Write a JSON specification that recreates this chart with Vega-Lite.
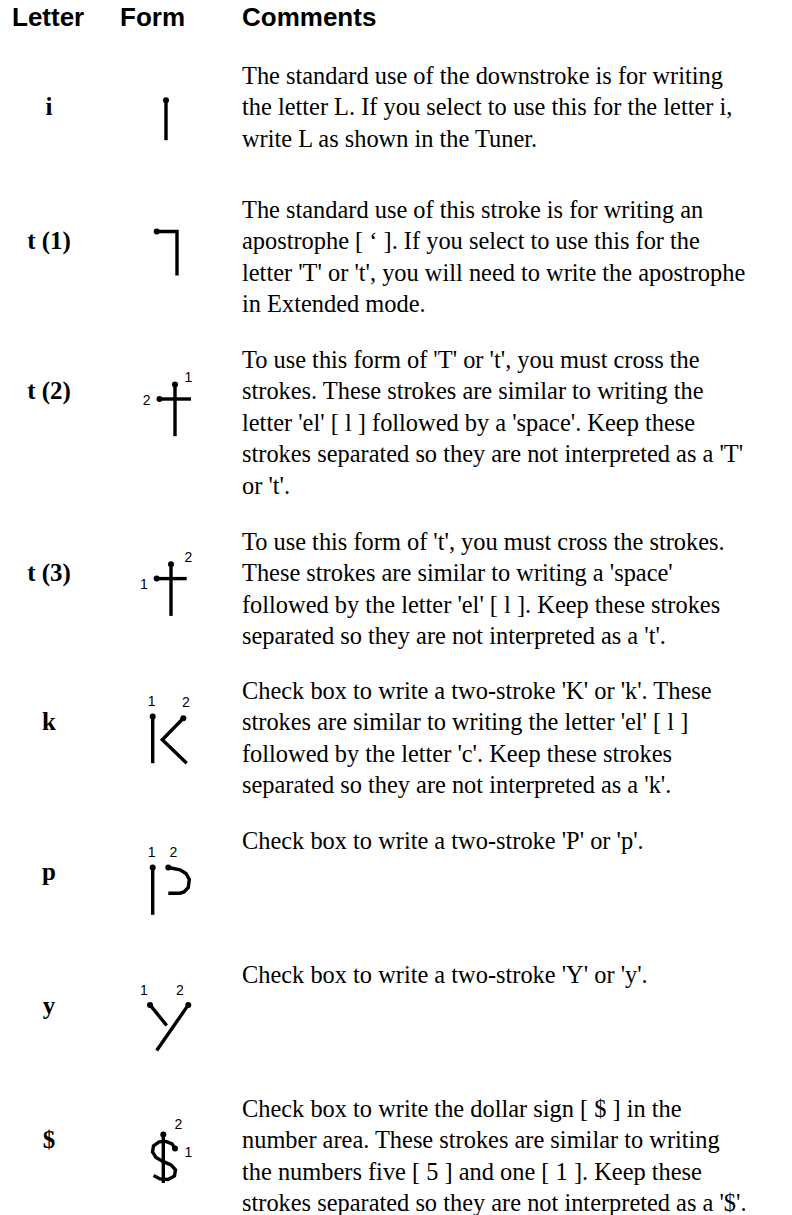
{
"$schema":"https://vega.github.io/schema/vega-lite/v6.json",
"background":"white","padding":0,"spacing":0,"bounds":"flush",
"config":{"view":{"stroke":null},"concat":{"spacing":0}},
"datasets":{
"header":[{"col":"Letter"},{"col":"Form"},{"col":"Comments"}],
"lines":[
{"row":"i","col":"Letter","line":2,"text":"i"},
{"row":"i","col":"Comments","line":1,"text":"The standard use of the downstroke is for writing"},
{"row":"i","col":"Comments","line":2,"text":"the letter L. If you select to use this for the letter i,"},
{"row":"i","col":"Comments","line":3,"text":"write L as shown in the Tuner."},
{"row":"t1","col":"Letter","line":2,"text":"t (1)"},
{"row":"t1","col":"Comments","line":1,"text":"The standard use of this stroke is for writing an"},
{"row":"t1","col":"Comments","line":2,"text":"apostrophe [ ‘ ]. If you select to use this for the"},
{"row":"t1","col":"Comments","line":3,"text":"letter 'T' or 't', you will need to write the apostrophe"},
{"row":"t1","col":"Comments","line":4,"text":"in Extended mode."},
{"row":"t2","col":"Letter","line":2,"text":"t (2)"},
{"row":"t2","col":"Comments","line":1,"text":"To use this form of 'T' or 't', you must cross the"},
{"row":"t2","col":"Comments","line":2,"text":"strokes. These strokes are similar to writing the"},
{"row":"t2","col":"Comments","line":3,"text":"letter 'el' [ l ] followed by a 'space'. Keep these"},
{"row":"t2","col":"Comments","line":4,"text":"strokes separated so they are not interpreted as a 'T'"},
{"row":"t2","col":"Comments","line":5,"text":"or 't'."},
{"row":"t3","col":"Letter","line":2,"text":"t (3)"},
{"row":"t3","col":"Comments","line":1,"text":"To use this form of 't', you must cross the strokes."},
{"row":"t3","col":"Comments","line":2,"text":"These strokes are similar to writing a 'space'"},
{"row":"t3","col":"Comments","line":3,"text":"followed by the letter 'el' [ l ]. Keep these strokes"},
{"row":"t3","col":"Comments","line":4,"text":"separated so they are not interpreted as a 't'."},
{"row":"k","col":"Letter","line":2,"text":"k"},
{"row":"k","col":"Comments","line":1,"text":"Check box to write a two-stroke 'K' or 'k'. These"},
{"row":"k","col":"Comments","line":2,"text":"strokes are similar to writing the letter 'el' [ l ]"},
{"row":"k","col":"Comments","line":3,"text":"followed by the letter 'c'. Keep these strokes"},
{"row":"k","col":"Comments","line":4,"text":"separated so they are not interpreted as a 'k'."},
{"row":"p","col":"Letter","line":2,"text":"p"},
{"row":"p","col":"Comments","line":1,"text":"Check box to write a two-stroke 'P' or 'p'."},
{"row":"y","col":"Letter","line":2,"text":"y"},
{"row":"y","col":"Comments","line":1,"text":"Check box to write a two-stroke 'Y' or 'y'."},
{"row":"d","col":"Letter","line":2,"text":"$"},
{"row":"d","col":"Comments","line":1,"text":"Check box to write the dollar sign [ $ ] in the"},
{"row":"d","col":"Comments","line":2,"text":"number area. These strokes are similar to writing"},
{"row":"d","col":"Comments","line":3,"text":"the numbers five [ 5 ] and one [ 1 ]. Keep these"},
{"row":"d","col":"Comments","line":4,"text":"strokes separated so they are not interpreted as a '$'."}
],
"strokes":[
{"row":"i","stroke":1,"seq":1,"gx":0,"gy":-15},{"row":"i","stroke":1,"seq":2,"gx":0,"gy":25},
{"row":"t1","stroke":1,"seq":1,"gx":-9.3,"gy":-17.7},{"row":"t1","stroke":1,"seq":2,"gx":11,"gy":-17.7},{"row":"t1","stroke":1,"seq":3,"gx":11,"gy":26.3},
{"row":"t2","stroke":1,"seq":1,"gx":9,"gy":-14.6},{"row":"t2","stroke":1,"seq":2,"gx":9,"gy":37},
{"row":"t2","stroke":2,"seq":1,"gx":-6.5,"gy":-0.2},{"row":"t2","stroke":2,"seq":2,"gx":25,"gy":-0.2},
{"row":"t3","stroke":1,"seq":1,"gx":-9.3,"gy":-2.6},{"row":"t3","stroke":1,"seq":2,"gx":20.7,"gy":-2.6},
{"row":"t3","stroke":2,"seq":1,"gx":5,"gy":-17},{"row":"t3","stroke":2,"seq":2,"gx":5,"gy":34.7},
{"row":"k","stroke":1,"seq":1,"gx":-13.3,"gy":-13.7},{"row":"k","stroke":1,"seq":2,"gx":-13.3,"gy":33},
{"row":"k","stroke":2,"seq":1,"gx":17.3,"gy":-12},{"row":"k","stroke":2,"seq":2,"gx":-3.7,"gy":9.6},{"row":"k","stroke":2,"seq":3,"gx":20.7,"gy":33},
{"row":"p","stroke":1,"seq":1,"gx":-13.3,"gy":-12.7},{"row":"p","stroke":1,"seq":2,"gx":-13.3,"gy":34.6},
{"row":"p","stroke":2,"seq":1,"gx":2.3,"gy":-12.7},{"row":"p","stroke":2,"seq":2,"gx":14,"gy":-10.4},{"row":"p","stroke":2,"seq":3,"gx":20,"gy":-6.7},{"row":"p","stroke":2,"seq":4,"gx":23.3,"gy":-0.7},{"row":"p","stroke":2,"seq":5,"gx":22.3,"gy":7.3},{"row":"p","stroke":2,"seq":6,"gx":18,"gy":11.8},{"row":"p","stroke":2,"seq":7,"gx":14,"gy":13},{"row":"p","stroke":2,"seq":8,"gx":2.3,"gy":13},
{"row":"y","stroke":1,"seq":1,"gx":-16,"gy":-9.3},{"row":"y","stroke":1,"seq":2,"gx":0.7,"gy":11.3},
{"row":"y","stroke":2,"seq":1,"gx":22.3,"gy":-9.3},{"row":"y","stroke":2,"seq":2,"gx":-9.3,"gy":36.3},
{"row":"d","stroke":1,"seq":1,"gx":9,"gy":0.4},{"row":"d","stroke":1,"seq":2,"gx":6,"gy":-4.3},{"row":"d","stroke":1,"seq":3,"gx":0,"gy":-6.8},{"row":"d","stroke":1,"seq":4,"gx":-7,"gy":-6.3},{"row":"d","stroke":1,"seq":5,"gx":-12.5,"gy":-2.3},{"row":"d","stroke":1,"seq":6,"gx":-13.5,"gy":3.7},{"row":"d","stroke":1,"seq":7,"gx":-10,"gy":9.2},{"row":"d","stroke":1,"seq":8,"gx":-3,"gy":13.2},{"row":"d","stroke":1,"seq":9,"gx":5,"gy":16.7},{"row":"d","stroke":1,"seq":10,"gx":9.5,"gy":21.7},{"row":"d","stroke":1,"seq":11,"gx":8.5,"gy":27.7},{"row":"d","stroke":1,"seq":12,"gx":2,"gy":31.2},{"row":"d","stroke":1,"seq":13,"gx":-6,"gy":30.7},{"row":"d","stroke":1,"seq":14,"gx":-12.5,"gy":27.2},
{"row":"d","stroke":2,"seq":1,"gx":-2.7,"gy":-13.6},{"row":"d","stroke":2,"seq":2,"gx":-2.7,"gy":34.7}
],
"dots":[
{"row":"i","gx":0,"gy":-15},
{"row":"t1","gx":-9.3,"gy":-17.7},
{"row":"t2","gx":9,"gy":-14.6},{"row":"t2","gx":-6.5,"gy":-0.2},
{"row":"t3","gx":5,"gy":-17},{"row":"t3","gx":-9.3,"gy":-2.6},
{"row":"k","gx":-13.3,"gy":-13.7},{"row":"k","gx":17.3,"gy":-12},
{"row":"p","gx":-13.3,"gy":-12.7},{"row":"p","gx":2.3,"gy":-12.7},
{"row":"y","gx":-16,"gy":-9.3},{"row":"y","gx":22.3,"gy":-9.3},
{"row":"d","gx":9,"gy":0.4},{"row":"d","gx":-2.7,"gy":-13.6}
],
"labels":[
{"row":"t2","text":"1","gx":22.3,"gy":-21.5},{"row":"t2","text":"2","gx":-19.3,"gy":1.3},
{"row":"t3","text":"2","gx":22.3,"gy":-23.6},{"row":"t3","text":"1","gx":-22,"gy":3.7},
{"row":"k","text":"1","gx":-14.3,"gy":-28.7},{"row":"k","text":"2","gx":20,"gy":-27},
{"row":"p","text":"1","gx":-14.3,"gy":-27},{"row":"p","text":"2","gx":7.3,"gy":-27},
{"row":"y","text":"1","gx":-22,"gy":-23.7},{"row":"y","text":"2","gx":14,"gy":-23.7},
{"row":"d","text":"2","gx":12.3,"gy":-23.6},{"row":"d","text":"1","gx":22.3,"gy":4.7}
]
},
"vconcat":[
{"width":792,"height":51.8,"data":{"name":"header"},"resolve":{"scale":{"x":"independent"}},
 "layer":[
  {"transform":[{"filter":"datum.col !== 'Form'"}],
   "mark":{"type":"text","font":"Liberation Sans","fontWeight":"bold","fontSize":26,"align":"left","baseline":"alphabetic","color":"black"},
   "encoding":{"x":{"field":"col","type":"nominal","scale":{"type":"point","domain":["Letter","Comments"],"range":[12,242],"padding":0},"axis":null},"text":{"field":"col"}}},
  {"transform":[{"filter":"datum.col === 'Form'"}],
   "mark":{"type":"text","font":"Liberation Sans","fontWeight":"bold","fontSize":26,"align":"left","baseline":"alphabetic","color":"black"},
   "encoding":{"x":{"field":"col","type":"nominal","scale":{"type":"point","domain":["Form"],"range":[110,130],"padding":0},"axis":null},"text":{"field":"col"}}}]},
{"width":792,"height":133.7,"resolve":{"scale":{"x":"independent","y":"independent"}},"layer":[
 {"data":{"name":"lines"},"transform":[{"filter":"datum.row === 'i'"}],
  "encoding":{"x":{"field":"col","type":"nominal","scale":{"type":"point","domain":["Letter","Comments"],"range":[49,242],"padding":0},"axis":null},"y":{"field":"line","type":"quantitative","scale":{"domain":[0,1],"range":[0,31.6],"nice":false,"zero":false},"axis":null},"text":{"field":"text"}},
  "layer":[
   {"transform":[{"filter":"datum.col === 'Letter'"}],"mark":{"type":"text","font":"Liberation Serif","fontWeight":"bold","fontSize":25,"align":"center","baseline":"alphabetic","color":"black"}},
   {"transform":[{"filter":"datum.col === 'Comments'"}],"mark":{"type":"text","font":"Liberation Serif","fontSize":24.4,"align":"left","baseline":"alphabetic","color":"black"}}]},
 {"encoding":{"x":{"field":"gx","type":"quantitative","scale":{"domain":[0,10],"range":[166,176],"nice":false,"zero":false},"axis":null},"y":{"field":"gy","type":"quantitative","scale":{"domain":[0,10],"range":[63.2,73.2],"nice":false,"zero":false},"axis":null}},
  "layer":[
   {"data":{"name":"strokes"},"transform":[{"filter":"datum.row === 'i'"}],"mark":{"type":"line","color":"black","strokeWidth":3.4},"encoding":{"detail":{"field":"stroke","type":"nominal"},"order":{"field":"seq","type":"quantitative"}}},
   {"data":{"name":"dots"},"transform":[{"filter":"datum.row === 'i'"}],"mark":{"type":"point","filled":true,"color":"black","size":36,"opacity":1}},
   {"data":{"name":"labels"},"transform":[{"filter":"datum.row === 'i'"}],"mark":{"type":"text","font":"Liberation Sans","fontSize":14,"align":"center","baseline":"middle","color":"black"},"encoding":{"text":{"field":"text"}}}]}]},
{"width":792,"height":150,"resolve":{"scale":{"x":"independent","y":"independent"}},"layer":[
 {"data":{"name":"lines"},"transform":[{"filter":"datum.row === 't1'"}],
  "encoding":{"x":{"field":"col","type":"nominal","scale":{"type":"point","domain":["Letter","Comments"],"range":[49,242],"padding":0},"axis":null},"y":{"field":"line","type":"quantitative","scale":{"domain":[0,1],"range":[0,31.6],"nice":false,"zero":false},"axis":null},"text":{"field":"text"}},
  "layer":[
   {"transform":[{"filter":"datum.col === 'Letter'"}],"mark":{"type":"text","font":"Liberation Serif","fontWeight":"bold","fontSize":25,"align":"center","baseline":"alphabetic","color":"black"}},
   {"transform":[{"filter":"datum.col === 'Comments'"}],"mark":{"type":"text","font":"Liberation Serif","fontSize":24.4,"align":"left","baseline":"alphabetic","color":"black"}}]},
 {"encoding":{"x":{"field":"gx","type":"quantitative","scale":{"domain":[0,10],"range":[166,176],"nice":false,"zero":false},"axis":null},"y":{"field":"gy","type":"quantitative","scale":{"domain":[0,10],"range":[63.2,73.2],"nice":false,"zero":false},"axis":null}},
  "layer":[
   {"data":{"name":"strokes"},"transform":[{"filter":"datum.row === 't1'"}],"mark":{"type":"line","color":"black","strokeWidth":3.4},"encoding":{"detail":{"field":"stroke","type":"nominal"},"order":{"field":"seq","type":"quantitative"}}},
   {"data":{"name":"dots"},"transform":[{"filter":"datum.row === 't1'"}],"mark":{"type":"point","filled":true,"color":"black","size":36,"opacity":1}},
   {"data":{"name":"labels"},"transform":[{"filter":"datum.row === 't1'"}],"mark":{"type":"text","font":"Liberation Sans","fontSize":14,"align":"center","baseline":"middle","color":"black"},"encoding":{"text":{"field":"text"}}}]}]},
{"width":792,"height":181.6,"resolve":{"scale":{"x":"independent","y":"independent"}},"layer":[
 {"data":{"name":"lines"},"transform":[{"filter":"datum.row === 't2'"}],
  "encoding":{"x":{"field":"col","type":"nominal","scale":{"type":"point","domain":["Letter","Comments"],"range":[49,242],"padding":0},"axis":null},"y":{"field":"line","type":"quantitative","scale":{"domain":[0,1],"range":[0,31.6],"nice":false,"zero":false},"axis":null},"text":{"field":"text"}},
  "layer":[
   {"transform":[{"filter":"datum.col === 'Letter'"}],"mark":{"type":"text","font":"Liberation Serif","fontWeight":"bold","fontSize":25,"align":"center","baseline":"alphabetic","color":"black"}},
   {"transform":[{"filter":"datum.col === 'Comments'"}],"mark":{"type":"text","font":"Liberation Serif","fontSize":24.4,"align":"left","baseline":"alphabetic","color":"black"}}]},
 {"encoding":{"x":{"field":"gx","type":"quantitative","scale":{"domain":[0,10],"range":[166,176],"nice":false,"zero":false},"axis":null},"y":{"field":"gy","type":"quantitative","scale":{"domain":[0,10],"range":[63.2,73.2],"nice":false,"zero":false},"axis":null}},
  "layer":[
   {"data":{"name":"strokes"},"transform":[{"filter":"datum.row === 't2'"}],"mark":{"type":"line","color":"black","strokeWidth":3.4},"encoding":{"detail":{"field":"stroke","type":"nominal"},"order":{"field":"seq","type":"quantitative"}}},
   {"data":{"name":"dots"},"transform":[{"filter":"datum.row === 't2'"}],"mark":{"type":"point","filled":true,"color":"black","size":36,"opacity":1}},
   {"data":{"name":"labels"},"transform":[{"filter":"datum.row === 't2'"}],"mark":{"type":"text","font":"Liberation Sans","fontSize":14,"align":"center","baseline":"middle","color":"black"},"encoding":{"text":{"field":"text"}}}]}]},
{"width":792,"height":148.4,"resolve":{"scale":{"x":"independent","y":"independent"}},"layer":[
 {"data":{"name":"lines"},"transform":[{"filter":"datum.row === 't3'"}],
  "encoding":{"x":{"field":"col","type":"nominal","scale":{"type":"point","domain":["Letter","Comments"],"range":[49,242],"padding":0},"axis":null},"y":{"field":"line","type":"quantitative","scale":{"domain":[0,1],"range":[0,31.6],"nice":false,"zero":false},"axis":null},"text":{"field":"text"}},
  "layer":[
   {"transform":[{"filter":"datum.col === 'Letter'"}],"mark":{"type":"text","font":"Liberation Serif","fontWeight":"bold","fontSize":25,"align":"center","baseline":"alphabetic","color":"black"}},
   {"transform":[{"filter":"datum.col === 'Comments'"}],"mark":{"type":"text","font":"Liberation Serif","fontSize":24.4,"align":"left","baseline":"alphabetic","color":"black"}}]},
 {"encoding":{"x":{"field":"gx","type":"quantitative","scale":{"domain":[0,10],"range":[166,176],"nice":false,"zero":false},"axis":null},"y":{"field":"gy","type":"quantitative","scale":{"domain":[0,10],"range":[63.2,73.2],"nice":false,"zero":false},"axis":null}},
  "layer":[
   {"data":{"name":"strokes"},"transform":[{"filter":"datum.row === 't3'"}],"mark":{"type":"line","color":"black","strokeWidth":3.4},"encoding":{"detail":{"field":"stroke","type":"nominal"},"order":{"field":"seq","type":"quantitative"}}},
   {"data":{"name":"dots"},"transform":[{"filter":"datum.row === 't3'"}],"mark":{"type":"point","filled":true,"color":"black","size":36,"opacity":1}},
   {"data":{"name":"labels"},"transform":[{"filter":"datum.row === 't3'"}],"mark":{"type":"text","font":"Liberation Sans","fontSize":14,"align":"center","baseline":"middle","color":"black"},"encoding":{"text":{"field":"text"}}}]}]},
{"width":792,"height":150,"resolve":{"scale":{"x":"independent","y":"independent"}},"layer":[
 {"data":{"name":"lines"},"transform":[{"filter":"datum.row === 'k'"}],
  "encoding":{"x":{"field":"col","type":"nominal","scale":{"type":"point","domain":["Letter","Comments"],"range":[49,242],"padding":0},"axis":null},"y":{"field":"line","type":"quantitative","scale":{"domain":[0,1],"range":[0,31.6],"nice":false,"zero":false},"axis":null},"text":{"field":"text"}},
  "layer":[
   {"transform":[{"filter":"datum.col === 'Letter'"}],"mark":{"type":"text","font":"Liberation Serif","fontWeight":"bold","fontSize":25,"align":"center","baseline":"alphabetic","color":"black"}},
   {"transform":[{"filter":"datum.col === 'Comments'"}],"mark":{"type":"text","font":"Liberation Serif","fontSize":24.4,"align":"left","baseline":"alphabetic","color":"black"}}]},
 {"encoding":{"x":{"field":"gx","type":"quantitative","scale":{"domain":[0,10],"range":[166,176],"nice":false,"zero":false},"axis":null},"y":{"field":"gy","type":"quantitative","scale":{"domain":[0,10],"range":[63.2,73.2],"nice":false,"zero":false},"axis":null}},
  "layer":[
   {"data":{"name":"strokes"},"transform":[{"filter":"datum.row === 'k'"}],"mark":{"type":"line","color":"black","strokeWidth":3.4},"encoding":{"detail":{"field":"stroke","type":"nominal"},"order":{"field":"seq","type":"quantitative"}}},
   {"data":{"name":"dots"},"transform":[{"filter":"datum.row === 'k'"}],"mark":{"type":"point","filled":true,"color":"black","size":36,"opacity":1}},
   {"data":{"name":"labels"},"transform":[{"filter":"datum.row === 'k'"}],"mark":{"type":"text","font":"Liberation Sans","fontSize":14,"align":"center","baseline":"middle","color":"black"},"encoding":{"text":{"field":"text"}}}]}]},
{"width":792,"height":133.3,"resolve":{"scale":{"x":"independent","y":"independent"}},"layer":[
 {"data":{"name":"lines"},"transform":[{"filter":"datum.row === 'p'"}],
  "encoding":{"x":{"field":"col","type":"nominal","scale":{"type":"point","domain":["Letter","Comments"],"range":[49,242],"padding":0},"axis":null},"y":{"field":"line","type":"quantitative","scale":{"domain":[0,1],"range":[0,31.6],"nice":false,"zero":false},"axis":null},"text":{"field":"text"}},
  "layer":[
   {"transform":[{"filter":"datum.col === 'Letter'"}],"mark":{"type":"text","font":"Liberation Serif","fontWeight":"bold","fontSize":25,"align":"center","baseline":"alphabetic","color":"black"}},
   {"transform":[{"filter":"datum.col === 'Comments'"}],"mark":{"type":"text","font":"Liberation Serif","fontSize":24.4,"align":"left","baseline":"alphabetic","color":"black"}}]},
 {"encoding":{"x":{"field":"gx","type":"quantitative","scale":{"domain":[0,10],"range":[166,176],"nice":false,"zero":false},"axis":null},"y":{"field":"gy","type":"quantitative","scale":{"domain":[0,10],"range":[63.2,73.2],"nice":false,"zero":false},"axis":null}},
  "layer":[
   {"data":{"name":"strokes"},"transform":[{"filter":"datum.row === 'p'"}],"mark":{"type":"line","color":"black","strokeWidth":3.4},"encoding":{"detail":{"field":"stroke","type":"nominal"},"order":{"field":"seq","type":"quantitative"}}},
   {"data":{"name":"dots"},"transform":[{"filter":"datum.row === 'p'"}],"mark":{"type":"point","filled":true,"color":"black","size":36,"opacity":1}},
   {"data":{"name":"labels"},"transform":[{"filter":"datum.row === 'p'"}],"mark":{"type":"text","font":"Liberation Sans","fontSize":14,"align":"center","baseline":"middle","color":"black"},"encoding":{"text":{"field":"text"}}}]}]},
{"width":792,"height":133.3,"resolve":{"scale":{"x":"independent","y":"independent"}},"layer":[
 {"data":{"name":"lines"},"transform":[{"filter":"datum.row === 'y'"}],
  "encoding":{"x":{"field":"col","type":"nominal","scale":{"type":"point","domain":["Letter","Comments"],"range":[49,242],"padding":0},"axis":null},"y":{"field":"line","type":"quantitative","scale":{"domain":[0,1],"range":[0,31.6],"nice":false,"zero":false},"axis":null},"text":{"field":"text"}},
  "layer":[
   {"transform":[{"filter":"datum.col === 'Letter'"}],"mark":{"type":"text","font":"Liberation Serif","fontWeight":"bold","fontSize":25,"align":"center","baseline":"alphabetic","color":"black"}},
   {"transform":[{"filter":"datum.col === 'Comments'"}],"mark":{"type":"text","font":"Liberation Serif","fontSize":24.4,"align":"left","baseline":"alphabetic","color":"black"}}]},
 {"encoding":{"x":{"field":"gx","type":"quantitative","scale":{"domain":[0,10],"range":[166,176],"nice":false,"zero":false},"axis":null},"y":{"field":"gy","type":"quantitative","scale":{"domain":[0,10],"range":[63.2,73.2],"nice":false,"zero":false},"axis":null}},
  "layer":[
   {"data":{"name":"strokes"},"transform":[{"filter":"datum.row === 'y'"}],"mark":{"type":"line","color":"black","strokeWidth":3.4},"encoding":{"detail":{"field":"stroke","type":"nominal"},"order":{"field":"seq","type":"quantitative"}}},
   {"data":{"name":"dots"},"transform":[{"filter":"datum.row === 'y'"}],"mark":{"type":"point","filled":true,"color":"black","size":36,"opacity":1}},
   {"data":{"name":"labels"},"transform":[{"filter":"datum.row === 'y'"}],"mark":{"type":"text","font":"Liberation Sans","fontSize":14,"align":"center","baseline":"middle","color":"black"},"encoding":{"text":{"field":"text"}}}]}]},
{"width":792,"height":132.9,"resolve":{"scale":{"x":"independent","y":"independent"}},"layer":[
 {"data":{"name":"lines"},"transform":[{"filter":"datum.row === 'd'"}],
  "encoding":{"x":{"field":"col","type":"nominal","scale":{"type":"point","domain":["Letter","Comments"],"range":[49,242],"padding":0},"axis":null},"y":{"field":"line","type":"quantitative","scale":{"domain":[0,1],"range":[0,31.6],"nice":false,"zero":false},"axis":null},"text":{"field":"text"}},
  "layer":[
   {"transform":[{"filter":"datum.col === 'Letter'"}],"mark":{"type":"text","font":"Liberation Serif","fontWeight":"bold","fontSize":25,"align":"center","baseline":"alphabetic","color":"black"}},
   {"transform":[{"filter":"datum.col === 'Comments'"}],"mark":{"type":"text","font":"Liberation Serif","fontSize":24.4,"align":"left","baseline":"alphabetic","color":"black"}}]},
 {"encoding":{"x":{"field":"gx","type":"quantitative","scale":{"domain":[0,10],"range":[166,176],"nice":false,"zero":false},"axis":null},"y":{"field":"gy","type":"quantitative","scale":{"domain":[0,10],"range":[63.2,73.2],"nice":false,"zero":false},"axis":null}},
  "layer":[
   {"data":{"name":"strokes"},"transform":[{"filter":"datum.row === 'd'"}],"mark":{"type":"line","color":"black","strokeWidth":3.4},"encoding":{"detail":{"field":"stroke","type":"nominal"},"order":{"field":"seq","type":"quantitative"}}},
   {"data":{"name":"dots"},"transform":[{"filter":"datum.row === 'd'"}],"mark":{"type":"point","filled":true,"color":"black","size":36,"opacity":1}},
   {"data":{"name":"labels"},"transform":[{"filter":"datum.row === 'd'"}],"mark":{"type":"text","font":"Liberation Sans","fontSize":14,"align":"center","baseline":"middle","color":"black"},"encoding":{"text":{"field":"text"}}}]}]}
]
}
